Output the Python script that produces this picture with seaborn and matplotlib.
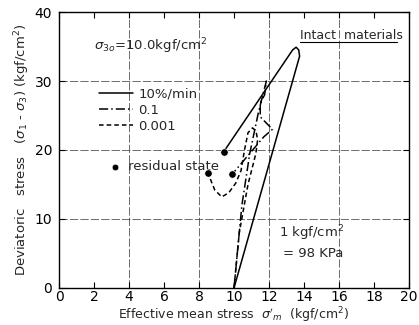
import matplotlib
matplotlib.use("Agg")
import matplotlib.pyplot as plt
import seaborn as sns
import pandas as pd

# Stress paths in the p'-q plane (kgf/cm^2)
p_10 = [10.0, 13.75, 13.7, 13.55, 13.35, 9.4]
q_10 = [0.0, 33.6, 34.5, 34.9, 34.5, 19.7]

p_01 = [10.0, 10.45, 10.9, 11.4, 11.6, 11.85, 11.75, 11.5, 11.5, 12.2, 11.7, 9.9]
q_01 = [0.0, 12.0, 19.5, 25.5, 27.5, 30.0, 28.0, 26.8, 24.8, 23.0, 21.9, 16.5]

p_0001 = [10.0, 10.3, 10.8, 11.25, 11.35, 11.25, 11.05, 10.8, 10.6, 10.4, 10.1, 9.7, 9.3, 8.9, 8.5]
q_0001 = [0.0, 8.0, 15.0, 19.5, 21.5, 22.8, 23.2, 22.5, 20.0, 17.0, 15.2, 13.8, 13.2, 14.2, 16.7]

resid_p = [9.4, 9.9, 8.5]
resid_q = [19.7, 16.5, 16.7]

rate_labels = ["10%/min", "0.1", "0.001"]
x_ticks = [0, 2, 4, 6, 8, 10, 12, 14, 16, 18, 20]
y_ticks = [0, 10, 20, 30, 40]

sns.set_theme(style="white")
plt.rcParams["font.family"] = ["DejaVu Sans"]

fig = plt.figure(figsize=(4.19, 3.25), dpi=100)
ax = fig.add_axes([0.141, 0.114, 0.835, 0.849])

grid_kw = dict(color="#333333", lw=0.5, ls=(0, (12, 3)), zorder=0)
for gx in [4, 8, 12, 16]:
    ax.axvline(gx, **grid_kw)
for gy in [10, 20, 30]:
    ax.axhline(gy, **grid_kw)

styles = ["-", (0, (6, 2, 1, 2)), (0, (3, 2))]
for (px, qy), lab, st in zip([(p_10, q_10), (p_01, q_01), (p_0001, q_0001)], rate_labels, styles):
    df = pd.DataFrame({"p": px, "q": qy})
    sns.lineplot(data=df, x="p", y="q", sort=False, estimator=None, ax=ax,
                 color="black", lw=1.1, linestyle=st, label=lab)

sns.scatterplot(x=resid_p, y=resid_q, ax=ax, color="black", s=28, zorder=5, legend=False)
sns.scatterplot(x=[3.2], y=[17.6], ax=ax, color="black", s=22, zorder=5, legend=False)
ax.text(3.95, 17.6, "residual state", fontsize=9.5, va="center", ha="left")

leg = ax.legend(loc="upper left", bbox_to_anchor=(0.08, 0.77), frameon=False,
                handlelength=2.6, handletextpad=0.4, labelspacing=0.25, fontsize=9.5)

ax.text(2.0, 35.0, r"$\sigma_{3o}$=10.0kgf/cm$^2$", fontsize=9.5, va="center", ha="left")
ax.text(13.8, 36.6, "Intact  materials", fontsize=9, va="center", ha="left")
ax.plot([13.8, 19.3], [35.6, 35.6], color="black", lw=0.8)
ax.text(12.6, 8.0, r"1 kgf/cm$^2$", fontsize=9.5, va="center", ha="left")
ax.text(12.8, 5.0, "= 98 KPa", fontsize=9.5, va="center", ha="left")

ax.set_xlim(0, 20)
ax.set_ylim(0, 40)
ax.set_xticks(x_ticks)
ax.set_yticks(y_ticks)
ax.tick_params(direction="in", length=4, width=0.8, labelsize=10, colors="black",
               top=True, right=True, bottom=True, left=True)
ax.tick_params(axis="x", pad=1.5)
ax.tick_params(axis="y", pad=5)
ax.set_xlabel(r"Effective mean stress  $\sigma'_m$  (kgf/cm$^2$)", fontsize=9)
ax.xaxis.set_label_coords(0.5, -0.064)
ax.set_ylabel(r"Deviatoric   stress   ($\sigma_1$ - $\sigma_3$) (kgf/cm$^2$)", fontsize=9.5, labelpad=2)
for sp in ax.spines.values():
    sp.set_color("black")
    sp.set_linewidth(1.0)

fig.savefig("out.png", dpi=100, facecolor="white")
